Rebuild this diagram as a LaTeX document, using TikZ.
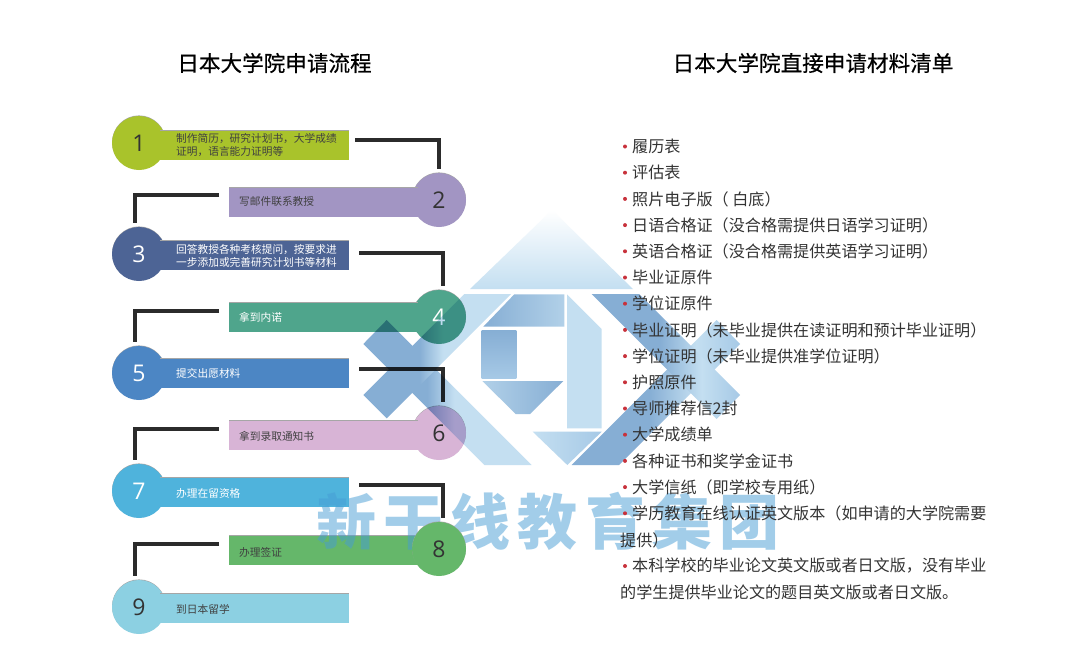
\documentclass[tikz,border=0pt]{standalone}
\usepackage{fontspec}
\setmainfont{Noto Sans CJK SC}
\newfontfamily\digitfont{Open Sans}
\usetikzlibrary{shadows}

\definecolor{col1}{HTML}{A9C32B}
\definecolor{col2}{HTML}{A295C3}
\definecolor{col3}{HTML}{4D6495}
\definecolor{col4}{HTML}{4FA58C}
\definecolor{col5}{HTML}{4C86C4}
\definecolor{col6}{HTML}{D8B4D6}
\definecolor{col7}{HTML}{4FB3DC}
\definecolor{col8}{HTML}{65B76A}
\definecolor{col9}{HTML}{8CD0E2}
\definecolor{wmlight}{HTML}{C4DFF1}
\definecolor{wmmid}{HTML}{A6C9E6}
\definecolor{wmdark}{HTML}{86AED4}
\definecolor{wmtext}{RGB}{71,157,213}
\definecolor{linkcol}{HTML}{2B2B2B}
\definecolor{listcol}{HTML}{333333}
\definecolor{dotcol}{HTML}{C8323C}

\pgfdeclarehorizontalshading{leftband}{100bp}{color(0bp)=(wmdark); color(44bp)=(wmdark); color(52bp)=(wmlight); color(100bp)=(wmlight)}
\pgfdeclarehorizontalshading{rightband}{100bp}{color(0bp)=(wmdark); color(48bp)=(wmdark); color(62bp)=(wmlight); color(75bp)=(wmmid); color(100bp)=(wmmid)}

\tikzset{
    disc/.style={circle,fill=#1,minimum size=54pt,inner sep=0pt,text=black!80,
        general shadow={shadow xshift=0pt,shadow yshift=.6pt,fill=black!35},
        font=\digitfont\fontsize{23}{23}\selectfont},
    bar/.style={rectangle,fill=#1,minimum height=29pt,inner sep=0pt,
        general shadow={shadow xshift=0pt,shadow yshift=.6pt,fill=black!35}},
    bartext/.style={anchor=west,inner sep=0pt,align=left,text=black!75,
        font=\fontsize{10.7}{13}\selectfont},
    link/.style={draw=linkcol,line width=3.2pt,shorten >=4pt},
    title/.style={inner sep=0pt,font=\fontsize{21.6}{24}\selectfont\addfontfeature{FakeBold=0.5}},
    item/.style={anchor=west,inner sep=0pt,text=listcol,
        font=\fontsize{16.1}{18}\selectfont},
}

\begin{document}
\begin{tikzpicture}[x=1pt,y=-1pt]

    \fill[white] (0,0) rectangle (1080,672);
    \useasboundingbox (0,0) rectangle (1080,672);

    \node[title] (title1) at (274.5,63) {日本大学院申请流程};
    \node[title] (title2) at (813,63) {日本大学院直接申请材料清单};

    %1
    \node[disc=col1] (c1) at (139,143) {1};
    \node[bar=col1,minimum width=189pt] (b1) at (254.5,145.5) {};
    \node[bartext] (t1) at (176,145.5) {制作简历，研究计划书，大学成绩\\证明，语言能力证明等};
    %2
    \node[disc=col2] (c2) at (439,200) {2};
    \node[bar=col2,minimum width=189pt] (b2) at (323.5,202) {};
    \node[bartext] (t2) at (239,201) {写邮件联系教授};
    %3
    \node[disc=col3,text=white] (c3) at (139,254) {3};
    \node[bar=col3,minimum width=189pt] (b3) at (254.5,255.5) {};
    \node[bartext,text=white] (t3) at (176,256) {回答教授各种考核提问，按要求进\\一步添加或完善研究计划书等材料};
    %4
    \node[disc=col4,text=white] (c4) at (439,317) {4};
    \node[bar=col4,minimum width=189pt] (b4) at (323.5,317.5) {};
    \node[bartext,text=white] (t4) at (239,317) {拿到内诺};
    %5
    \node[disc=col5,text=white] (c5) at (139,373) {5};
    \node[bar=col5,minimum width=189pt] (b5) at (254.5,373.5) {};
    \node[bartext,text=white] (t5) at (176,373) {提交出愿材料};
    %6
    \node[disc=col6] (c6) at (439,433) {6};
    \node[bar=col6,minimum width=189pt] (b6) at (323.5,435.5) {};
    \node[bartext] (t6) at (239,436) {拿到录取通知书};
    %7
    \node[disc=col7,text=white] (c7) at (139,491) {7};
    \node[bar=col7,minimum width=189pt] (b7) at (254.5,492.5) {};
    \node[bartext,text=white] (t7) at (176,493) {办理在留资格};
    %8
    \node[bar=col8,minimum width=189pt] (b8) at (323.5,550.5) {};
    \node[bartext] (t8) at (239,552) {办理签证};
    %9
    \node[disc=col9] (c9) at (139,607) {9};
    \node[bar=col9,minimum width=189pt] (b9) at (254.5,608.5) {};
    \node[bartext] (t9) at (176,609) {到日本留学};

    %watermark text
    \node[text=wmtext,text opacity=.5,inner sep=0pt,font=\bfseries\fontsize{60}{60}\selectfont\addfontfeature{LetterSpace=12}] (wm) at (548,521) {新干线教育集团};

    \node[disc=col8] (c8) at (439,549) {8};

    \coordinate (s1) at (355,140);
    \coordinate (s2) at (219,195);
    \coordinate (s3) at (359,253);
    \coordinate (s4) at (219,311);
    \coordinate (s5) at (359,369);
    \coordinate (s6) at (219,429);
    \coordinate (s7) at (359,485);
    \coordinate (s8) at (219,544);

    \draw[link] (s1) -| (c2.north);
    \draw[link] (s2) -| ([xshift=-4pt]c3.north);
    \draw[link] (s3) -| ([xshift=4pt]c4.north);
    \draw[link] (s4) -| ([xshift=-4pt]c5.north);
    \draw[link] (s5) -| ([xshift=4pt]c6.north);
    \draw[link] (s6) -| ([xshift=-4pt]c7.north);
    \draw[link] (s7) -| ([xshift=4pt]c8.north);
    \draw[link] (s8) -| ([xshift=-4pt]c9.north);

    %watermark
    \begin{scope}[blend mode=multiply,transparency group]
        \shade[top color=white,bottom color=wmlight] (552,210) -- (633,289) -- (470,289) -- cycle;
        \shade[shading=leftband] (386.7,320) -- (531.7,465) -- (484.3,465) -- (363.3,344) -- cycle;
        \shade[shading=leftband] (363.3,395) -- (464.3,294) -- (511,294) -- (386.7,418.3) -- cycle;
        \shade[shading=rightband] (716.7,320) -- (740,344) -- (619,465) -- (571.7,465) -- cycle;
        \shade[shading=rightband] (591.7,294) -- (639,294) -- (740,395) -- (716.7,419) -- cycle;
        \shade[left color=wmdark,right color=wmlight!70!wmdark] (514.3,294.3) -- (564.3,294.3) -- (564.3,326.7) -- (483.3,326.7) -- cycle;
        \shade[top color=wmdark,bottom color=wmmid] (481.7,330) rectangle (516.3,378.3);
        \shade[left color=wmlight!70!wmdark,right color=wmdark] (482.3,381) -- (563.3,381) -- (530,414) -- (515.7,414) -- cycle;
        \fill[wmlight] (567,294.3) -- (601.7,329) -- (601.7,428.3) -- (567,428.3) -- cycle;
        \shade[left color=wmlight,right color=wmmid] (532.7,431.7) -- (601.7,431.7) -- (567.3,465) -- cycle;
    \end{scope}

    \foreach \t [count=\i] in {履历表,评估表,照片电子版（ 白底）,日语合格证（没合格需提供日语学习证明）,英语合格证（没合格需提供英语学习证明）,毕业证原件,学位证原件,毕业证明（未毕业提供在读证明和预计毕业证明）,学位证明（未毕业提供准学位证明）,护照原件,导师推荐信2封,大学成绩单,各种证书和奖学金证书,大学信纸（即学校专用纸）,学历教育在线认证英文版本（如申请的大学院需要}
    {
        \node[item] (item\i) at (632,{146.5+(\i-1)*26.2}) {\t};
        \fill[dotcol] ([xshift=-7pt]item\i.west) circle (2pt);
    }
    \node[item] (wrap1) at (620,540) {提供）};
    \node[item] (item16) at (632,566) {本科学校的毕业论文英文版或者日文版，没有毕业};
    \fill[dotcol] ([xshift=-7pt]item16.west) circle (2pt);
    \node[item] (wrap2) at (620,592) {的学生提供毕业论文的题目英文版或者日文版。};

\end{tikzpicture}
\end{document}
